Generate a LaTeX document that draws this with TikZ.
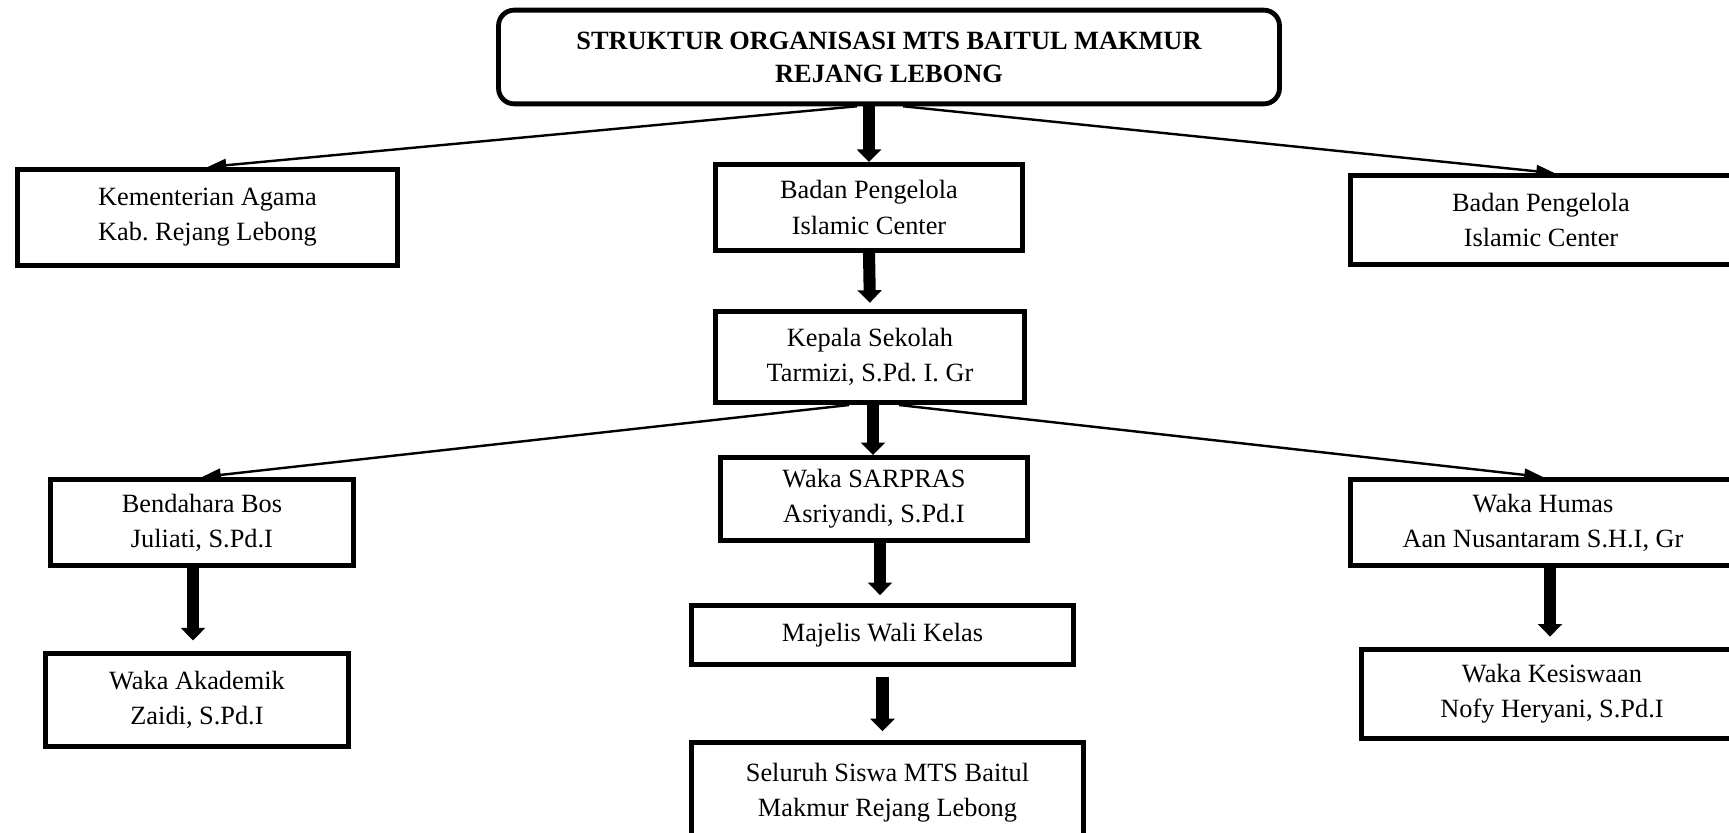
\documentclass[tikz,border=0pt]{standalone}
\usepackage{fontspec}
\setmainfont{Liberation Serif}
\usetikzlibrary{arrows.meta}
\usetikzlibrary{calc}
\frenchspacing
\tikzstyle{block} = [draw, line width=2.2pt, rectangle, align=center,
    font=\fontsize{12}{16}\selectfont]
\tikzstyle{titlebox} = [block, rounded corners=0.25cm,
    font=\bfseries\fontsize{12}{15}\selectfont]
\tikzstyle{thinarrow} = [line width=1.1pt, -{Triangle[length=0.3cm,width=0.2cm]}]
\tikzstyle{bigarrow} = [line width=5.5pt, -{Triangle[length=0.2cm,width=0.38cm]}]

\begin{document}
\begin{tikzpicture}[x=0.016cm,y=-0.016cm]
    \useasboundingbox (0,0) rectangle (1729,832);
    \node [titlebox, minimum width=12.5cm, minimum height=1.5cm] at (889,57) (title) {STRUKTUR ORGANISASI MTS BAITUL MAKMUR\\REJANG LEBONG};
    \node [block, minimum width=6.08cm, minimum height=1.54cm] at (207.5,217.5) (kemenag) {Kementerian Agama\\Kab. Rejang Lebong};
    \node [block, minimum width=4.91cm, minimum height=1.38cm] at (869,207.5) (badan1) {Badan Pengelola\\Islamic Center};
    \node [block, minimum width=6.1cm, minimum height=1.42cm] at (1541,220) (badan2) {Badan Pengelola\\Islamic Center};
    \node [block, minimum width=4.94cm, minimum height=1.46cm] at (870,357) (kepala) {Kepala Sekolah\\Tarmizi, S.Pd. I. Gr};
    \node [block, minimum width=4.85cm, minimum height=1.38cm] at (202,522.5) (bendahara) {Bendahara Bos\\Juliati, S.Pd.I};
    \node [block, minimum width=4.91cm, minimum height=1.33cm] at (874,499) (sarpras) {Waka SARPRAS\\Asriyandi, S.Pd.I};
    \node [block, minimum width=6.16cm, minimum height=1.38cm] at (1543,522.5) (humas) {Waka Humas\\Aan Nusantaram S.H.I, Gr};
    \node [block, minimum width=4.85cm, minimum height=1.49cm] at (197,700) (akademik) {Waka Akademik\\Zaidi, S.Pd.I};
    \node [block, minimum width=6.11cm, minimum height=0.94cm] at (882.5,635) (majelis) {Majelis Wali Kelas};
    \node [block, minimum width=6.27cm, minimum height=1.62cm] at (887.5,793) (seluruh) {Seluruh Siswa MTS Baitul\\Makmur Rejang Lebong};
    \node [block, minimum width=6.1cm, minimum height=1.42cm] at (1552,694) (kesiswaan) {Waka Kesiswaan\\Nofy Heryani, S.Pd.I};
    \draw [thinarrow] ($(title.south)+(-32,0)$) -- (kemenag.north);
    \draw [thinarrow] ($(title.south)+(14,0)$) -- ($(badan2.north)+(14,0)$);
    \draw [bigarrow] (title.south -| badan1.north) -- (badan1.north);
    \draw [bigarrow, shorten >=0.1cm] (badan1.south) -- (kepala.north);
    \draw [thinarrow] ($(kepala.south)+(-21,0)$) -- (bendahara.north);
    \draw [thinarrow] ($(kepala.south)+(29,0)$) -- (humas.north);
    \draw [bigarrow] ($(kepala.south)+(3,0)$) -- ($(kepala.south |- sarpras.north)+(3,0)$);
    \draw [bigarrow, shorten >=0.13cm] ($(sarpras.south)+(6,0)$) -- ($(sarpras.south |- majelis.north)+(6,0)$);
    \draw [bigarrow, shorten <=0.16cm, shorten >=0.14cm] (majelis.south) -- (majelis.south |- seluruh.north);
    \draw [bigarrow, shorten >=0.17cm] ($(bendahara.south)+(-9,0)$) -- ($(bendahara.south |- akademik.north)+(-9,0)$);
    \draw [bigarrow, shorten >=0.17cm] ($(humas.south)+(7,0)$) -- ($(humas.south |- kesiswaan.north)+(7,0)$);
\end{tikzpicture}
\end{document}
